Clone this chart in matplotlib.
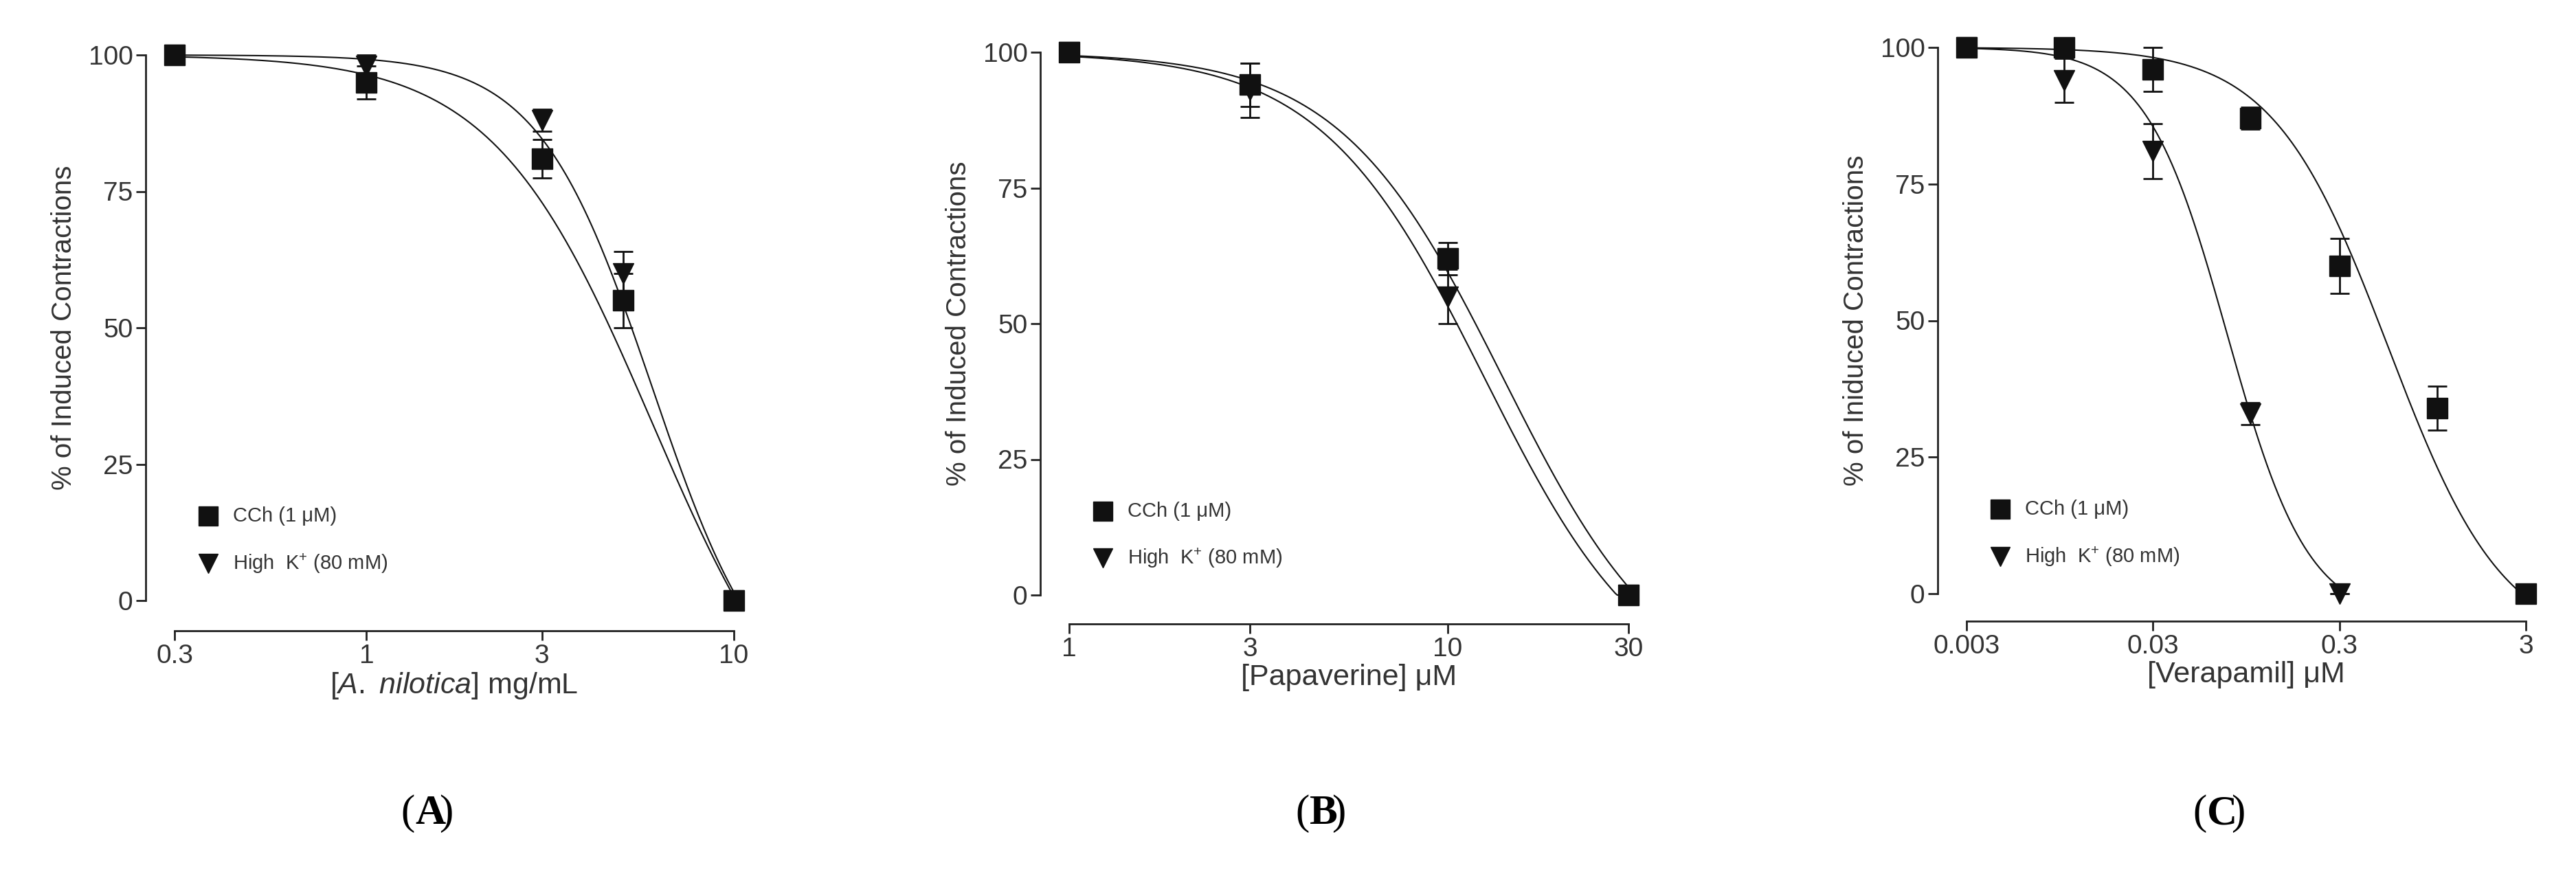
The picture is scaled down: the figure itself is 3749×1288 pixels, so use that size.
import numpy as np
import matplotlib.pyplot as plt

W, H = 3749, 1288

# panel A: A. nilotica
a_x = [0.3, 1, 3, 5, 10]
a_cch = [100, 95, 81, 55, 0]
a_cch_err = [0, 3, 3.5, 5, 0]
a_k = [100, 98, 88, 60, 0]
a_k_err = [0, 2, 2, 4, 0]

# panel B: papaverine
b_x = [1, 3, 10, 30]
b_cch = [100, 94, 62, 0]
b_cch_err = [0, 4, 3, 0]
b_k = [100, 93, 55, 0]
b_k_err = [0, 5, 5, 0]

# panel C: verapamil
c_x_cch = [0.003, 0.01, 0.03, 0.1, 0.3, 1, 3]
c_cch = [100, 100, 96, 87, 60, 34, 0]
c_cch_err = [0, 0, 4, 2, 5, 4, 0]
c_x_k = [0.003, 0.01, 0.03, 0.1, 0.3]
c_k = [100, 94, 81, 33, 0]
c_k_err = [0, 4, 5, 2, 0]

# fitted curve parameters (ic50, hill, bottom)
fits = {
    "A": [(6.0, 2.0, -35), (6.0, 2.8, -22)],
    "B": [(14.0, 2.0, -20), (12.5, 2.0, -20)],
    "C": [(0.55, 1.4, -10), (0.075, 2.0, -5)],
}


def hill(x, ic50, n, bottom, top=100):
    return bottom + (top - bottom) / (1 + (x / ic50) ** n)


panels = [
    ("A", 254, 80, 874, 918, (0.3, 10), [0.3, 1, 3, 10], ["0.3", "1", "3", "10"],
     r"[$\mathit{A.\ nilotica}$] mg/mL", "% of Induced Contractions",
     (a_x, a_cch, a_cch_err), (a_x, a_k, a_k_err), 604),
    ("B", 1556, 76, 866, 908, (1, 30), [1, 3, 10, 30], ["1", "3", "10", "30"],
     "[Papaverine] μM", "% of Induced Contractions",
     (b_x, b_cch, b_cch_err), (b_x, b_k, b_k_err), 1906),
    ("C", 2862, 69, 864, 904, (0.003, 3), [0.003, 0.03, 0.3, 3], ["0.003", "0.03", "0.3", "3"],
     "[Verapamil] μM", "% of Iniduced Contractions",
     (c_x_cch, c_cch, c_cch_err), (c_x_k, c_k, c_k_err), 3212),
]

plt.rcParams['font.family'] = ['Liberation Sans', 'DejaVu Sans']
plt.rcParams['mathtext.fontset'] = 'custom'
plt.rcParams['mathtext.it'] = 'Liberation Sans:italic'
plt.rcParams['mathtext.rm'] = 'Liberation Sans'

fig = plt.figure(figsize=(W / 100, H / 100), dpi=100)
col = '#111111'

for (letter, left, y100, y0, xax, xlim, ticks, tlabels, xlabel, ylabel,
     s1, s2, lx) in panels:
    ax = fig.add_axes([left / W, 1 - y0 / H, 814 / W, (y0 - y100) / H])
    ax.set_xscale('log')
    ax.set_xlim(*xlim)
    ax.set_ylim(0, 100)
    ax.spines['top'].set_visible(False)
    ax.spines['right'].set_visible(False)
    ax.spines['left'].set_position(('outward', 30))
    ax.spines['bottom'].set_position(('outward', (xax - y0) * 0.72))
    for sp in ['left', 'bottom']:
        ax.spines[sp].set_linewidth(2)
        ax.spines[sp].set_color('#222222')
    ax.set_xticks(ticks)
    ax.set_xticklabels(tlabels)
    ax.minorticks_off()
    ax.set_yticks([0, 25, 50, 75, 100])
    ax.tick_params(labelsize=28, width=2, length=10, colors='#222222',
                   labelcolor='#333333')
    ax.set_xlabel(xlabel, fontsize=31, color='#333333', labelpad=2)
    ax.set_ylabel(ylabel, fontsize=29, color='#333333', labelpad=12)

    for (xs, ys, es), (ic50, n, bot), mk in zip([s1, s2], fits[letter], ['s', 'v']):
        xx = np.logspace(np.log10(xs[0]), np.log10(xs[-1]), 300)
        yy = np.clip(hill(xx, ic50, n, bot), 0, None)
        ax.plot(xx, yy, color=col, lw=1.5, clip_on=False)
        ax.errorbar(xs, ys, yerr=es, fmt=mk, color=col, ms=22, capsize=10,
                    elinewidth=2, capthick=2, clip_on=False, zorder=3)

    ax.plot([0.06], [0.155], 's', color=col, ms=20, transform=ax.transAxes,
            clip_on=False)
    ax.plot([0.06], [0.068], 'v', color=col, ms=20, transform=ax.transAxes,
            clip_on=False)
    ax.text(0.105, 0.155, "CCh (1 μM)", transform=ax.transAxes, fontsize=21,
            va='center', color='#333333')
    ax.text(0.105, 0.068, "High  K$^{+}$ (80 mM)", transform=ax.transAxes,
            fontsize=21, va='center', color='#333333')

    fig.text(lx / W, 1 - 1184 / H, "(" + letter + ")", fontsize=44,
             ha='center', va='center', family='Liberation Serif')
    fig.texts[-1].set_text("")
    fig.text(lx / W, 1 - 1184 / H, "(", fontsize=44, ha='right', va='center',
             family='Liberation Serif')
    fig.text(lx / W, 1 - 1184 / H, letter + ")", fontsize=44, ha='left',
             va='center', family='Liberation Serif')
    fig.texts[-1].set_text("")
    fig.text(lx / W, 1 - 1184 / H, letter, fontsize=44, ha='left', va='center',
             family='Liberation Serif', fontweight='bold')
    # closing paren after bold letter
    fig.text(lx / W + 0.0085 * (1.1 if letter != "B" else 1.0), 1 - 1184 / H, ")",
             fontsize=44, ha='left', va='center', family='Liberation Serif')

fig.savefig('out.png', dpi=100)
